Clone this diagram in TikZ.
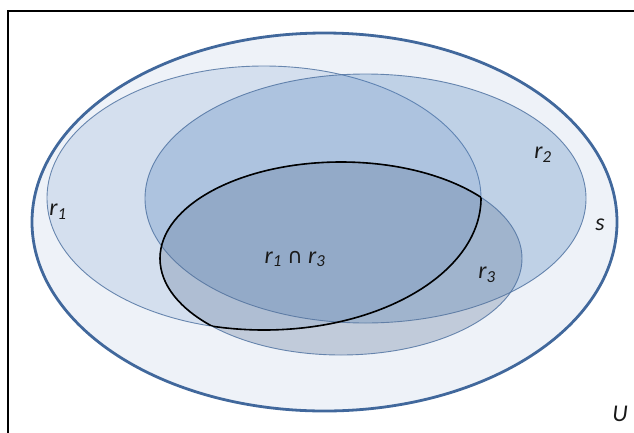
\documentclass[tikz,border=0pt]{standalone}
\usepackage{fontspec}
\setmainfont{Carlito}
\newfontfamily\capfont{DejaVu Sans}
\usetikzlibrary{positioning}
\definecolor{setedge}{HTML}{41689C}
\definecolor{universefill}{HTML}{EEF2F8}
\definecolor{setblue}{HTML}{4F81BD}
\definecolor{setgray}{HTML}{5A7396}
\definecolor{thinedge}{HTML}{4A6E9E}
\tikzset{
  frame/.style     = {draw=black, line width=2.6pt},
  outerset/.style  = {fill=universefill, draw=setedge, line width=2.8pt},
  region/.style    = {fill=setblue, fill opacity=0.16, draw=thinedge, draw opacity=0.8, line width=0.9pt},
  regiontwo/.style = {region, fill opacity=0.29},
  regionthree/.style = {region, fill=setgray, fill opacity=0.30},
  meet/.style      = {draw=black, line width=1.6pt},
  setlabel/.style  = {font=\fontsize{24}{28}\selectfont\itshape, text=black!90, inner sep=0pt}
}

\begin{document}
\begin{tikzpicture}[x=1pt, y=-1pt]
    \useasboundingbox (0,0) rectangle (634,432);
    \clip (0,0) rectangle (634,432);
    % Frame (runs off the right and bottom)
    \draw[frame] (8,11) rectangle (660,460);
    % Sample space s
    \draw[outerset] (324.5,222) ellipse [x radius=292.5, y radius=189];
    % Sets r1, r2, r3
    \draw[region] (264,198) ellipse [x radius=217, y radius=132];
    \draw[regiontwo] (365.5,198.5) ellipse [x radius=220.5, y radius=124.5];
    \draw[regionthree] (341,258.5) ellipse [x radius=181, y radius=96.5];
    % Outline of r1 meet r3
    \begin{scope}
      \clip (264,198) ellipse [x radius=217, y radius=132];
      \draw[meet] (341,258.5) ellipse [x radius=181, y radius=96.5];
    \end{scope}
    \begin{scope}
      \clip (341,258.5) ellipse [x radius=181, y radius=96.5];
      \draw[meet] (264,198) ellipse [x radius=217, y radius=132];
    \end{scope}
    % Labels
    \node[setlabel] (labr1) at (58,212) {r\textsubscript{1}};
    \node[setlabel] (labr2) at (543,155) {r\textsubscript{2}};
    \node[setlabel] (labr3) at (487,275) {r\textsubscript{3}};
    \node[setlabel] (labs) at (600,225) {s};
    \node[setlabel] (labU) at (620,414) {U};
    \node[setlabel] (labmeet) at (295,259) {r\textsubscript{1} {\capfont\upshape\fontsize{21}{24}\selectfont ∩} r\textsubscript{3}};
  \end{tikzpicture}
\end{document}
